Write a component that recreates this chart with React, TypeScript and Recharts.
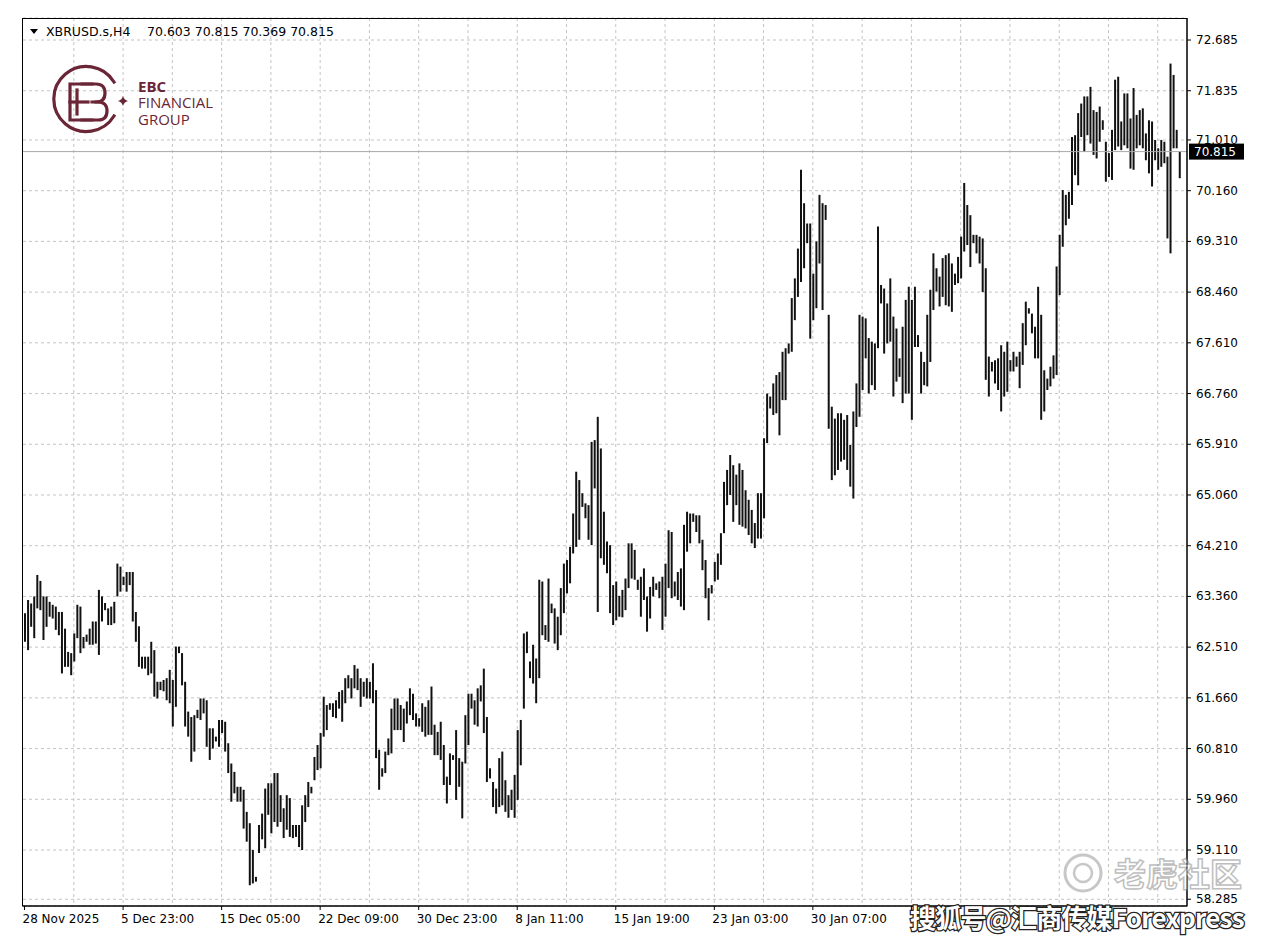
import React from 'react';
import { ComposedChart, Bar, XAxis, YAxis, CartesianGrid, ReferenceLine } from 'recharts';

// XBRUSD H4 bars (one row = 16 bars = one grid column)
const highs = [
  63.08, 63.30, 63.24, 63.36, 63.72, 63.62, 63.36, 63.36, 63.27, 63.22, 63.19, 63.10, 63.10, 62.82, 62.43, 62.41,
  62.74, 63.22, 63.19, 62.68, 62.72, 62.82, 62.94, 62.94, 63.47, 63.36, 63.25, 63.16, 63.19, 63.27, 63.91, 63.86,
  63.69, 63.77, 63.77, 63.77, 63.10, 62.86, 62.35, 62.35, 62.35, 62.60, 62.46, 61.93, 61.93, 61.96, 61.99, 62.13,
  61.96, 62.52, 62.52, 62.41, 61.93, 61.43, 61.34, 61.37, 61.46, 61.65, 61.65, 61.62, 61.15, 61.15, 61.01, 61.29,
  61.29, 61.26, 60.90, 60.56, 60.42, 60.17, 60.17, 60.12, 59.75, 59.56, 59.11, 58.66, 59.53, 59.72, 60.14, 60.23,
  60.23, 60.40, 60.40, 60.03, 59.81, 60.03, 59.98, 59.53, 59.53, 59.53, 59.86, 60.03, 60.25, 60.17, 60.67, 60.87,
  61.07, 61.68, 61.54, 61.57, 61.57, 61.62, 61.76, 61.79, 61.99, 62.04, 61.99, 62.21, 62.15, 61.99, 61.93, 61.99,
  61.93, 62.24, 61.79, 60.79, 60.48, 60.76, 60.98, 61.48, 61.65, 61.65, 61.54, 61.48, 61.60, 61.82, 61.73, 61.40,
  61.32, 61.57, 61.51, 61.62, 61.85, 61.21, 61.09, 61.26, 60.87, 60.34, 60.73, 60.70, 61.12, 60.65, 60.59, 61.37,
  61.73, 61.73, 61.62, 61.82, 61.87, 62.15, 61.34, 60.48, 60.25, 60.14, 60.65, 60.76, 60.28, 60.03, 60.12, 60.37,
  61.12, 61.29, 62.74, 62.77, 62.27, 62.55, 62.32, 63.64, 63.61, 62.88, 63.66, 63.24, 63.16, 63.02, 63.50, 63.91,
  63.97, 64.19, 64.75, 65.45, 65.31, 65.09, 64.92, 64.89, 65.95, 65.98, 66.37, 65.84, 64.78, 64.28, 64.22, 63.55,
  63.61, 63.37, 63.47, 63.66, 64.25, 64.25, 64.14, 63.64, 63.69, 63.83, 63.36, 63.52, 63.69, 63.58, 63.61, 63.69,
  63.91, 64.47, 64.44, 63.61, 63.77, 63.83, 64.56, 64.78, 64.75, 64.75, 64.72, 64.72, 64.31, 63.97, 63.50, 63.55,
  63.94, 64.08, 64.42, 65.28, 65.48, 65.73, 65.56, 65.40, 65.59, 65.48, 65.14, 64.98, 64.81, 64.59, 65.09, 65.09,
  66.01, 66.76, 66.71, 66.93, 67.07, 67.12, 67.46, 67.52, 67.60, 68.36, 68.69, 69.19, 70.51, 69.95, 69.61, 69.61,
  68.77, 69.31, 70.09, 69.95, 69.92, 68.08, 66.54, 66.34, 66.43, 66.43, 66.32, 66.40, 65.90, 66.46, 66.93, 68.08,
  68.05, 68.02, 67.69, 67.63, 67.60, 69.56, 68.58, 68.52, 68.27, 68.69, 68.05, 67.85, 67.35, 67.88, 68.33, 68.55,
  68.33, 68.55, 67.74, 67.46, 67.29, 68.08, 68.50, 69.11, 68.86, 68.72, 69.03, 69.08, 69.11, 68.94, 68.77, 69.05,
  69.39, 70.29, 69.92, 69.75, 69.42, 69.42, 69.39, 69.36, 68.86, 67.38, 67.29, 67.32, 67.35, 67.57, 67.46, 67.63,
  67.32, 67.46, 67.38, 67.46, 67.94, 68.30, 68.19, 68.10, 67.88, 68.55, 68.08, 67.15, 67.01, 67.21, 67.40, 68.89,
  69.42, 70.17, 70.09, 70.14, 71.06, 71.09, 71.46, 71.62, 71.74, 71.74, 71.90, 71.51, 71.48, 71.57, 71.34, 70.98,
  70.79, 71.18, 72.02, 72.07, 71.32, 71.79, 71.79, 71.37, 71.88, 71.43, 71.51, 71.54, 71.12, 71.34, 71.32, 71.01,
  70.87, 71.01, 70.98, 70.73, 72.29, 72.10, 71.18, 70.815,
];

const lows = [
  62.60, 62.46, 62.85, 62.66, 63.16, 63.13, 62.63, 62.85, 63.02, 62.99, 62.80, 62.71, 62.07, 62.18, 62.18, 62.04,
  62.27, 62.66, 62.41, 62.49, 62.60, 62.55, 62.55, 62.57, 62.38, 62.94, 63.13, 62.88, 62.88, 62.91, 63.36, 63.44,
  63.55, 63.44, 63.55, 62.94, 62.60, 62.18, 62.15, 62.15, 62.04, 62.07, 61.68, 61.65, 61.79, 61.77, 61.62, 61.57,
  61.18, 61.51, 62.41, 61.87, 61.18, 61.01, 60.59, 60.76, 61.32, 61.29, 61.40, 60.84, 60.62, 60.81, 60.93, 60.84,
  61.07, 60.76, 60.40, 59.92, 60.06, 59.92, 59.92, 59.47, 59.25, 58.52, 58.55, 58.58, 59.06, 59.29, 59.14, 59.70,
  59.39, 59.58, 59.50, 59.58, 59.31, 59.45, 59.33, 59.31, 59.33, 59.16, 59.11, 59.58, 59.83, 60.06, 60.28, 60.45,
  60.48, 61.01, 61.12, 61.46, 61.34, 61.32, 61.48, 61.26, 61.57, 61.82, 61.65, 61.82, 61.79, 61.51, 61.68, 61.65,
  61.65, 61.57, 60.65, 60.12, 60.34, 60.40, 60.70, 60.73, 61.12, 61.12, 61.12, 60.92, 61.23, 61.37, 61.29, 61.18,
  61.18, 61.09, 61.01, 61.04, 61.04, 60.70, 60.70, 60.62, 60.20, 59.89, 60.20, 60.62, 59.95, 60.17, 59.64, 60.56,
  60.87, 61.48, 61.21, 61.18, 61.60, 61.07, 60.25, 60.31, 59.83, 59.72, 59.83, 59.86, 59.75, 59.65, 59.78, 59.65,
  59.95, 60.53, 61.48, 62.41, 61.99, 61.90, 61.57, 61.99, 62.71, 62.63, 62.60, 63.08, 62.57, 62.46, 62.71, 63.08,
  63.41, 63.58, 64.08, 64.19, 64.31, 64.86, 64.67, 64.31, 64.22, 65.17, 63.10, 64.00, 63.89, 63.75, 63.08, 62.88,
  62.96, 63.02, 63.01, 63.13, 63.50, 63.66, 63.64, 63.47, 63.02, 63.30, 62.77, 62.99, 63.36, 63.47, 63.33, 62.80,
  63.02, 63.50, 63.33, 63.36, 63.30, 63.19, 63.13, 64.11, 64.25, 64.61, 64.44, 64.25, 63.80, 63.33, 62.96, 63.41,
  63.61, 63.64, 63.89, 64.42, 64.89, 65.06, 64.61, 64.89, 64.56, 64.53, 64.50, 64.39, 64.25, 64.17, 64.33, 64.33,
  64.67, 65.93, 66.51, 66.40, 66.43, 66.06, 66.65, 66.65, 67.43, 67.46, 67.99, 68.38, 68.63, 68.86, 69.28, 67.68,
  67.99, 68.19, 68.94, 68.16, 69.67, 66.17, 65.31, 65.39, 65.48, 65.62, 65.65, 65.48, 65.20, 65.00, 66.20, 66.37,
  66.82, 67.35, 66.76, 66.90, 66.82, 67.52, 68.27, 67.43, 67.60, 67.63, 66.71, 66.96, 67.04, 66.60, 66.76, 66.76,
  66.32, 67.54, 67.54, 66.76, 66.90, 66.88, 67.29, 68.16, 68.47, 68.22, 68.38, 68.24, 68.22, 68.13, 68.58, 68.61,
  68.69, 69.14, 69.25, 68.88, 69.28, 69.11, 68.94, 68.46, 66.99, 66.71, 67.13, 66.93, 66.82, 66.46, 66.71, 66.79,
  67.13, 67.13, 67.21, 66.85, 67.24, 67.57, 68.10, 67.77, 67.35, 67.35, 66.32, 66.46, 66.82, 66.88, 67.01, 67.07,
  68.41, 69.22, 69.58, 69.69, 69.92, 70.42, 70.25, 71.06, 70.81, 71.09, 70.95, 70.76, 70.70, 70.98, 71.18, 70.31,
  70.39, 70.34, 70.84, 70.90, 70.84, 70.92, 70.87, 70.53, 70.51, 70.87, 70.92, 70.87, 70.67, 70.45, 70.23, 70.67,
  70.51, 70.56, 70.62, 69.36, 69.11, 70.87, 70.87, 70.369,
];

const priceTicks = [
  72.685, 71.835, 71.01, 70.16, 69.31, 68.46, 67.61, 66.76, 65.91,
  65.06, 64.21, 63.36, 62.51, 61.66, 60.81, 59.96, 59.11, 58.285,
];

const timeLabels = [
  '28 Nov 2025', '5 Dec 23:00', '15 Dec 05:00', '22 Dec 09:00', '30 Dec 23:00',
  '8 Jan 11:00', '15 Jan 19:00', '23 Jan 03:00', '30 Jan 07:00',
];

const symbol = 'XBRUSD.s,H4';
const lastQuote = '70.603 70.815 70.369 70.815'; // O H L C of last bar
const lastPrice = 70.815;

const barsPerLabel = 32;
const barsPerGrid = 16;
const emptySlots = 2; // chart shift on the right
const totalSlots = highs.length + emptySlots;

const font = "'DejaVu Sans', sans-serif";
const gridColor = '#c4c4c4';
const logoColor = '#6a2536';

const gridBars: number[] = [];
for (let i = barsPerGrid; i < highs.length; i += barsPerGrid) gridBars.push(i);

const TimeTick = (props: any) => {
  const { x, y, payload } = props;
  const label = timeLabels[payload.value / barsPerLabel] ?? '';
  return (
    <text x={x - 2} y={y} dy={11} fontFamily={font} fontSize={12} fill="#000" textAnchor="start">
      {label}
    </text>
  );
};

const PriceTick = (props: any) => {
  const { x, y, payload } = props;
  return (
    <text x={x} y={y} dy={4} fontFamily={font} fontSize={12} fill="#000" textAnchor="start">
      {payload.value.toFixed(3)}
    </text>
  );
};

const PriceTag = (props: any) => {
  const { viewBox } = props;
  const right = viewBox.x + viewBox.width;
  return (
    <g>
      <rect x={right + 2} y={viewBox.y - 8} width={55} height={16} fill="#000" />
      <text x={right + 7} y={viewBox.y + 4} fontFamily={font} fontSize={12} fill="#fff">
        {lastPrice.toFixed(3)}
      </text>
    </g>
  );
};

// vertical grid every 16 bars, at the centre of that bar's band (drawn behind the bars)
const verticalGrid = ({ offset }: any) => {
  if (!offset || !offset.width) return [];
  const band = offset.width / totalSlots;
  return gridBars.map((g) => offset.left + (g + 0.5) * band);
};

export default function App() {
  const data = [
    ...highs.map((h, i) => ({ i, range: [lows[i], h] })),
    ...Array.from({ length: emptySlots }, (_, k) => ({ i: highs.length + k })),
  ];

  return (
    <div style={{ position: 'absolute', left: 0, top: 0, width: 1268, height: 946, background: '#fff' }}>
      <ComposedChart
        width={1268}
        height={946}
        data={data}
        margin={{ top: 18, right: 0, bottom: 0, left: 23 }}
      >
        <CartesianGrid
          stroke={gridColor}
          strokeDasharray="3 3"
          verticalCoordinatesGenerator={verticalGrid}
        />
        <XAxis
          dataKey="i"
          type="category"
          interval={barsPerLabel - 1}
          height={40}
          tickSize={4}
          tickMargin={2}
          stroke="#000"
          tick={<TimeTick />}
        />
        <YAxis
          orientation="right"
          type="number"
          domain={[58.172, 73.054]}
          allowDataOverflow
          ticks={priceTicks}
          width={81}
          tickSize={4}
          tickMargin={5}
          stroke="#000"
          tick={<PriceTick />}
        />
        <ReferenceLine y={lastPrice} stroke="#a8a8a8" label={<PriceTag />} />
        <Bar dataKey="range" barSize={2} fill="#111" isAnimationActive={false} />
      </ComposedChart>

      <svg
        width={1268}
        height={946}
        style={{ position: 'absolute', left: 0, top: 0, pointerEvents: 'none' }}
      >
        {/* frame */}
        <rect x={22.5} y={18.5} width={1164.5} height={887.5} fill="none" stroke="#000" />

        {/* header */}
        <path d="M 30 29 L 38 29 L 34 34 Z" fill="#000" />
        <text x={46} y={36} fontFamily={font} fontSize={12.5} fill="#000">{symbol}</text>
        <text x={147} y={36} fontFamily={font} fontSize={12.5} fill="#000">{lastQuote}</text>

        {/* logo */}
        <g stroke={logoColor} strokeWidth={3.2} fill="none" strokeLinecap="square">
          <path d="M 114 82 A 32.5 32.5 0 1 0 114 116" />
          <path d="M 92 84 L 70 84 L 70 120 L 92 120" />
          <path d="M 77 90 L 77 114" />
          <path d="M 70 102 L 88 102" />
          <path d="M 82 84 L 96 84 Q 105 84 105 93 Q 105 102 96 102" />
          <path d="M 92 102 L 98 102 Q 107 102 107 111 Q 107 120 98 120 L 82 120" />
        </g>
        <path
          d="M 123 96 Q 124 100 128 101 Q 124 102 123 106 Q 122 102 118 101 Q 122 100 123 96 Z"
          fill={logoColor}
        />
        <text x={138} y={92} fontFamily="'Open Sans', sans-serif" fontSize={15} fontWeight={700} fill={logoColor}>EBC</text>
        <text x={138} y={108} fontFamily="'Open Sans', sans-serif" fontSize={15} fill={logoColor}>FINANCIAL</text>
        <text x={138} y={125} fontFamily="'Open Sans', sans-serif" fontSize={15} fill={logoColor}>GROUP</text>

        {/* watermarks */}
        <g opacity={0.55}>
          <circle cx={1083} cy={873} r={18} fill="none" stroke="#9a9a9a" strokeWidth={3} />
          <circle cx={1083} cy={873} r={9} fill="none" stroke="#9a9a9a" strokeWidth={2.5} />
          <text x={1114} y={886} fontFamily="'Noto Sans CJK SC', sans-serif" fontSize={32} fontWeight={700}
            fill="#fff" stroke="#8a8a8a" strokeWidth={1.5}>老虎社区</text>
        </g>
        <text x={910} y={928} fontFamily="'Noto Sans CJK SC', sans-serif" fontSize={26} fontWeight={700}
          fill="#fff" stroke="#222" strokeWidth={2.5} paintOrder="stroke" letterSpacing={-0.8}>
          搜狐号@汇商传媒Forexpress
        </text>
      </svg>
    </div>
  );
}
